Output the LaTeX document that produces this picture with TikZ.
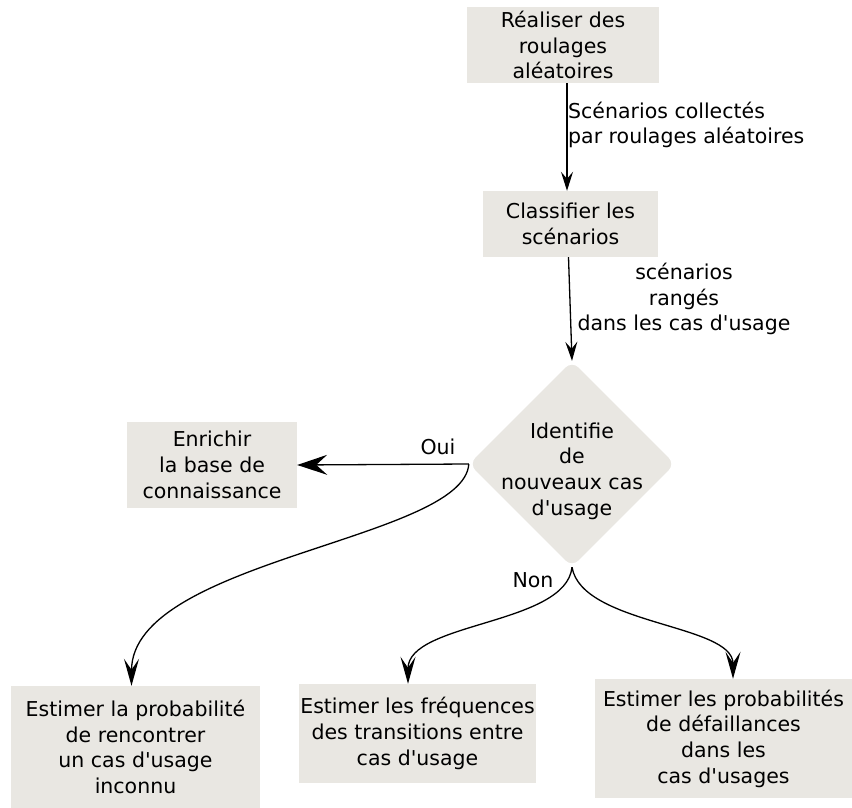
\documentclass[tikz,border=0pt]{standalone}
\usepackage{fontspec}
\setmainfont{DejaVu Sans}
\usepackage{xcolor}
\usetikzlibrary{shapes.geometric,arrows.meta,positioning}
\definecolor{boxgray}{RGB}{233,231,226}

\begin{document}
\begin{tikzpicture}[
    x=1pt, y=-1pt,
    font=\fontsize{20.5}{25.7}\selectfont,
    box/.style={rectangle, fill=boxgray, inner sep=0pt, align=center},
    decision/.style={diamond, fill=boxgray, inner sep=0pt, rounded corners=9pt,
        minimum width=206pt, minimum height=206pt},
    lbl/.style={inner sep=0pt, align=center},
    flow/.style={line width=1.3pt, -{Stealth[length=19pt,width=12pt,inset=7pt]}},
    bigflow/.style={line width=1.3pt, -{Stealth[length=27pt,width=15pt,inset=11pt]}}
]
    \useasboundingbox (0,0) rectangle (852,808);

    \node[box, minimum width=192pt, minimum height=76pt] (run) at (563,45)
        {Réaliser des\\roulages\\aléatoires};
    \node[box, minimum width=175pt, minimum height=66pt] (classify) at (570.5,224)
        {Classifier les\\scénarios};
    \node[decision, label={[lbl, yshift=-7pt]center:Identifie\\de\\nouveaux cas\\d\textquotesingle usage}]
        (newcase) at (572,464) {};
    \node[box, minimum width=170pt, minimum height=86pt] (enrich) at (212,465)
        {Enrichir\\la base de\\connaissance};

    \node[box, minimum width=249pt, minimum height=122pt] (unknown) at (135.5,747)
        {Estimer la probabilité\\de rencontrer\\un cas d\textquotesingle usage\\inconnu};
    \node[box, minimum width=237pt, minimum height=99pt] (freq) at (417.5,733.5)
        {Estimer les fréquences\\des transitions entre\\cas d\textquotesingle usage};
    \node[box, minimum width=257pt, minimum height=119pt] (fail) at (723.5,738.5)
        {Estimer les probabilités\\de défaillances\\dans les\\cas d\textquotesingle usages};

    % arrows and their labels
    \draw[flow] ([xshift=4pt]run.south) -- ([xshift=4pt]run.south |- classify.north);
    \node[lbl, align=left, anchor=west] (collected) at (568,125)
        {Scénarios collectés\\par roulages aléatoires};

    \draw[flow] ([xshift=-2pt]classify.south) -- (newcase.north);
    \node[lbl] (sorted) at (684,299) {scénarios\\rangés\\dans les cas d\textquotesingle usage};

    \draw[line width=1.3pt, -{Stealth[length=30pt,width=20pt,inset=11pt]}]
        (newcase.west) -- (enrich.east);
    \node[lbl] (yes) at (438,447) {Oui};

    \draw[bigflow] (newcase.west) .. controls +(-5,76) and +(0,-126) .. ([xshift=-4pt]unknown.north);
    \draw[bigflow] (newcase.south) .. controls +(-6,58) and +(0,-62) .. ([xshift=-9.5pt]freq.north);
    \draw[bigflow] (newcase.south) .. controls +(10,58) and +(0,-55) .. ([xshift=9.5pt]fail.north);
    \node[lbl] (no) at (533,580) {Non};
\end{tikzpicture}
\end{document}
